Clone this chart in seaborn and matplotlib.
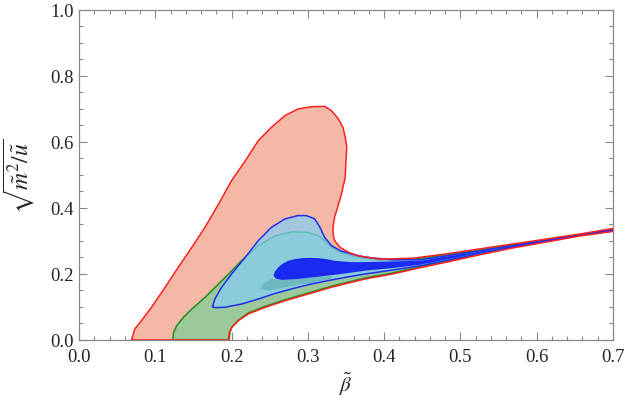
import numpy as np
import pandas as pd
import matplotlib
matplotlib.use("Agg")
import matplotlib.pyplot as plt
import seaborn as sns
from matplotlib.ticker import MultipleLocator

sns.set_style("ticks")
plt.rcParams['font.family'] = ['Liberation Serif', 'DejaVu Serif']
plt.rcParams['mathtext.fontset'] = 'stix'

# ---- region boundaries (beta, sqrt(m^2/u)) ----
red_x = [0.069, 0.073, 0.082, 0.095, 0.113, 0.130, 0.148, 0.165, 0.183, 0.200, 0.218, 0.235, 0.252,
         0.270, 0.287, 0.305, 0.322, 0.331, 0.340, 0.346, 0.349, 0.351, 0.350, 0.349, 0.344, 0.339,
         0.335, 0.333, 0.333, 0.335, 0.342, 0.353, 0.366, 0.394, 0.438, 0.482, 0.525, 0.569, 0.613,
         0.656, 0.700,
         0.700, 0.656, 0.613, 0.569, 0.525, 0.482, 0.447, 0.411, 0.375, 0.331, 0.300, 0.270, 0.244,
         0.222, 0.209, 0.200, 0.197, 0.196]
red_y = [0.000, 0.033, 0.059, 0.099, 0.160, 0.220, 0.281, 0.341, 0.412, 0.483, 0.543, 0.604, 0.644,
         0.680, 0.700, 0.707, 0.708, 0.695, 0.670, 0.644, 0.614, 0.584, 0.543, 0.493, 0.442, 0.402,
         0.372, 0.341, 0.321, 0.301, 0.281, 0.266, 0.255, 0.245, 0.248, 0.261, 0.276, 0.291, 0.306,
         0.321, 0.338,
         0.329, 0.315, 0.297, 0.279, 0.258, 0.236, 0.219, 0.200, 0.185, 0.160, 0.139, 0.119, 0.099,
         0.079, 0.059, 0.038, 0.023, 0.000]

green_x = [0.123, 0.124, 0.128, 0.137, 0.148, 0.165, 0.183, 0.194, 0.213, 0.235, 0.257, 0.279, 0.300,
           0.314, 0.322, 0.331, 0.344, 0.366, 0.394, 0.438, 0.482, 0.525, 0.569, 0.613, 0.656, 0.700,
           0.700, 0.656, 0.613, 0.569, 0.525, 0.482, 0.447, 0.411, 0.375, 0.331, 0.300, 0.270, 0.244,
           0.222, 0.210, 0.201, 0.198, 0.197]
green_y = [0.000, 0.023, 0.043, 0.069, 0.094, 0.129, 0.170, 0.195, 0.240, 0.286, 0.316, 0.328, 0.326,
           0.316, 0.301, 0.281, 0.264, 0.251, 0.242, 0.245, 0.258, 0.273, 0.288, 0.303, 0.318, 0.336,
           0.331, 0.318, 0.300, 0.282, 0.261, 0.239, 0.222, 0.203, 0.188, 0.163, 0.142, 0.122, 0.102,
           0.082, 0.062, 0.041, 0.024, 0.000]

blue_x = [0.175, 0.178, 0.187, 0.200, 0.218, 0.235, 0.252, 0.270, 0.287, 0.298, 0.309, 0.316, 0.322,
          0.331, 0.344, 0.362, 0.375, 0.411, 0.447, 0.482, 0.525, 0.569, 0.613, 0.656, 0.700,
          0.700, 0.656, 0.613, 0.569, 0.525, 0.482, 0.447, 0.411, 0.375, 0.357, 0.331, 0.305, 0.279,
          0.257, 0.235, 0.213, 0.191, 0.178]
blue_y = [0.101, 0.124, 0.160, 0.200, 0.251, 0.301, 0.341, 0.367, 0.377, 0.377, 0.367, 0.341, 0.311,
          0.286, 0.269, 0.258, 0.251, 0.243, 0.243, 0.255, 0.270, 0.286, 0.302, 0.318, 0.335,
          0.331, 0.317, 0.300, 0.282, 0.262, 0.241, 0.225, 0.212, 0.200, 0.193, 0.182, 0.170, 0.155,
          0.141, 0.124, 0.109, 0.099, 0.098]

teal_x = [0.237, 0.243, 0.252, 0.266, 0.287, 0.314, 0.331, 0.331, 0.296, 0.270, 0.248]
teal_y = [0.155, 0.172, 0.185, 0.182, 0.185, 0.192, 0.194, 0.185, 0.170, 0.160, 0.150]

dark_x = [0.255, 0.257, 0.261, 0.267, 0.274, 0.283, 0.292, 0.303, 0.314, 0.325, 0.335, 0.357, 0.375,
          0.411, 0.447, 0.482, 0.525, 0.569, 0.613, 0.656, 0.700,
          0.700, 0.656, 0.613, 0.569, 0.525, 0.482, 0.447, 0.411, 0.375, 0.344, 0.314, 0.287, 0.266,
          0.258]
dark_y = [0.195, 0.208, 0.220, 0.231, 0.240, 0.245, 0.248, 0.249, 0.248, 0.245, 0.240, 0.236, 0.236,
          0.238, 0.240, 0.253, 0.268, 0.284, 0.300, 0.316, 0.334,
          0.332, 0.318, 0.301, 0.284, 0.264, 0.244, 0.228, 0.218, 0.210, 0.200, 0.192, 0.185, 0.182,
          0.186]

x_ticks = [0.0, 0.1, 0.2, 0.3, 0.4, 0.5, 0.6, 0.7]
y_ticks = [0.0, 0.2, 0.4, 0.6, 0.8, 1.0]

fig = plt.figure(figsize=(6.25, 4.10), dpi=100)
ax = fig.add_axes([0.1264, 0.1683, 0.8544, 0.8049])

def closed(xs, ys):
    return pd.DataFrame({"x": list(xs) + [xs[0]], "y": list(ys) + [ys[0]]})

red_df = closed(red_x, red_y)
green_df = closed(green_x, green_y)
blue_df = closed(blue_x, blue_y)

ax.fill(red_x, red_y, color='#F4B9A6', lw=0, zorder=1)
ax.fill(green_x, green_y, color='#9BC99B', lw=0, zorder=2)
sns.lineplot(data=green_df, x="x", y="y", sort=False, estimator=None, color='#1E8C1E',
             lw=1.1, ax=ax, zorder=3)
ax.fill(blue_x, blue_y, color=(132/255, 206/255, 248/255), alpha=0.71, lw=0, zorder=4)
ax.fill(teal_x, teal_y, color='#6DB8C0', lw=0, zorder=5)
ax.fill(dark_x, dark_y, color='#1A2AF0', lw=0, zorder=6)
sns.lineplot(data=blue_df, x="x", y="y", sort=False, estimator=None, color='#1F2FF0',
             lw=1.1, ax=ax, zorder=7)
sns.lineplot(data=red_df, x="x", y="y", sort=False, estimator=None, color='#FF2020',
             lw=1.1, ax=ax, zorder=8)

ax.set_xlim(0, 0.7)
ax.set_ylim(0, 1.0)
ax.set_xticks(x_ticks)
ax.set_yticks(y_ticks)
ax.set_xticklabels([f"{v:.1f}" for v in x_ticks], fontfamily='Liberation Serif')
ax.set_yticklabels([f"{v:.1f}" for v in y_ticks], fontfamily='Liberation Serif')
ax.xaxis.set_minor_locator(MultipleLocator(0.02))
ax.yaxis.set_minor_locator(MultipleLocator(0.05))
ax.tick_params(which='both', direction='in', top=True, right=True, color='#888888',
               labelsize=13.5, width=0.8)
ax.tick_params(which='major', length=6)
ax.tick_params(which='minor', length=3)
ax.tick_params(axis='x', pad=6)
ax.tick_params(axis='y', pad=4)
for s in ax.spines.values():
    s.set_color('#888888')
    s.set_linewidth(0.9)

ax.set_xlabel(r'$\tilde{\beta}$', fontsize=15, labelpad=3)
ax.set_ylabel(r'$\sqrt{\tilde{m}^2/\tilde{u}}$', fontsize=17, labelpad=10)

fig.savefig("out.png", dpi=100)
